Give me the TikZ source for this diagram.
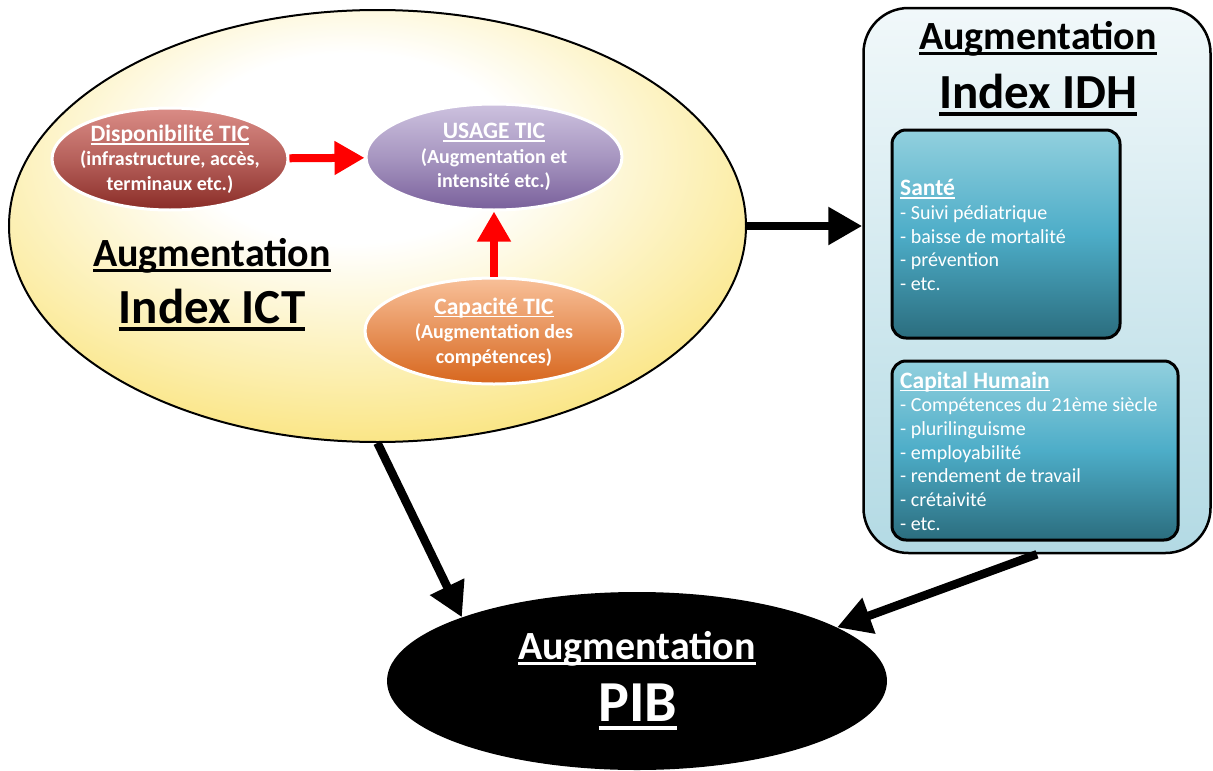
\documentclass[tikz,border=0pt]{standalone}
\usepackage{fontspec}
\setmainfont{Carlito}
\usetikzlibrary{arrows.meta,shapes.geometric,calc}
\definecolor{ictlight}{HTML}{FCEFB0}
\definecolor{ictmid}{HTML}{F9DF6A}
\definecolor{ictout}{HTML}{F3C942}
\definecolor{dispoT}{HTML}{DA8C86}
\definecolor{dispoB}{HTML}{8A2C27}
\definecolor{usageT}{HTML}{CDC2DF}
\definecolor{usageB}{HTML}{79609B}
\definecolor{capaT}{HTML}{F8C099}
\definecolor{capaB}{HTML}{D7661D}
\definecolor{idhT}{HTML}{F1F8FA}
\definecolor{idhB}{HTML}{B3DAE4}
\definecolor{tealT}{HTML}{92D0DE}
\definecolor{tealM}{HTML}{4DADC8}
\definecolor{tealB}{HTML}{2B6D7E}
\definecolor{arrred}{HTML}{FF0000}
\pgfdeclareradialshading{ictshade}{\pgfpoint{-2bp}{10bp}}{color(0bp)=(white); color(11bp)=(white); color(25bp)=(ictlight); color(37bp)=(ictmid); color(48bp)=(ictout); color(110bp)=(ictout)}
\newsavebox\ulbox
\newcommand{\myul}[2][]{\leavevmode{#1\sbox\ulbox{#2}\rlap{\rule[-0.14em]{\wd\ulbox}{0.07em}}\usebox\ulbox}}
\newcommand{\ellfont}{\bfseries\fontsize{20}{24.5}\selectfont}
\newcommand{\elltitle}{\bfseries\fontsize{23.5}{24.5}\selectfont}
\newcommand{\boxfont}{\fontsize{20}{23.7}\selectfont}
\newcommand{\boxtitle}{\bfseries\fontsize{23.5}{23.7}\selectfont}
\tikzset{
  smallell/.style={ellipse, draw=white, line width=3pt, inner sep=0pt},
  elltext/.style={inner sep=0pt, text=white, font=\ellfont, align=center},
  tealbox/.style={draw=black, line width=3pt, rounded corners=14pt, top color=tealT, bottom color=tealB, middle color=tealM},
  boxtext/.style={text=white, inner sep=0pt, align=left, font=\boxfont},
  bigword/.style={inner sep=0pt, font=\bfseries\fontsize{40}{44}\selectfont},
  hugeword/.style={inner sep=0pt, font=\bfseries\fontsize{49}{54}\selectfont},
  redarrow/.style={draw=arrred, line width=8pt, -{Triangle[width=32pt,length=30pt]}},
  blackarrow/.style={draw=black, line width=8.5pt, -{Triangle[width=36pt,length=34pt]}},
}
\begin{document}
\begin{tikzpicture}[x=1pt,y=-1pt]
\useasboundingbox (0,0) rectangle (1213,771);
% big ICT ellipse
\node[ellipse, draw=black, line width=2pt, minimum width=737, minimum height=432, inner sep=0pt, shading=ictshade] (ict) at (377.5,226) {};
% IDH box
\node[draw=black, line width=2.5pt, rounded corners=45pt, minimum width=347, minimum height=545, inner sep=0pt, top color=idhT, bottom color=idhB] (idh) at (1037,280.5) {};
% small ellipses
\node[smallell, minimum width=236, minimum height=102, top color=dispoT, bottom color=dispoB, middle color=dispoT!55!dispoB] (dispo) at (170,159) {};
\node[smallell, minimum width=256, minimum height=106, top color=usageT, bottom color=usageB, middle color=usageT!55!usageB] (usage) at (494,157) {};
\node[smallell, minimum width=258, minimum height=106, top color=capaT, bottom color=capaB, middle color=capaT!50!capaB] (capa) at (494,331) {};
\node[elltext] (dispoL) at (170,159) {\myul[\elltitle]{Disponibilité TIC}\\(infrastructure, accès,\\terminaux etc.)};
\node[elltext] (usageL) at (494,157) {\myul[\elltitle]{USAGE TIC}\\(Augmentation et\\intensité etc.)};
\node[elltext] (capaL) at (494,332) {\myul[\elltitle]{Capacité TIC}\\(Augmentation des\\compétences)};
% ICT labels
\node[bigword] (ictA) at (212,256) {\myul{Augmentation}};
\node[hugeword] (ictB) at (212,310) {\myul{Index ICT}};
% IDH labels
\node[bigword] (idhA) at (1038,39) {\myul{Augmentation}};
\node[hugeword] (idhB) at (1038,95) {\myul{Index IDH}};
% teal boxes
\node[tealbox, minimum width=228, minimum height=208, inner sep=0pt] (sante) at (1006,234) {};
\node[tealbox, minimum width=286, minimum height=179, inner sep=0pt] (capital) at (1035,450.5) {};
\node[boxtext, anchor=west] (santeT) at (900,235) {\myul[\boxtitle]{Santé}\\- Suivi pédiatrique\\- baisse de mortalité\\- prévention\\- etc.};
\node[boxtext, anchor=west] (capitalT) at (900,451) {\myul[\boxtitle]{Capital Humain}\\- Compétences du 21ème siècle\\- plurilinguisme\\- employabilité\\- rendement de travail\\- crétaivité\\- etc.};
% PIB
\node[ellipse, fill=black, minimum width=500, minimum height=178, inner sep=0pt] (pib) at (637,681) {};
\node[bigword, text=white] (pibA) at (637,649) {\myul{Augmentation}};
\node[inner sep=0pt, text=white, font=\bfseries\fontsize{58}{62}\selectfont] (pibB) at (638,707) {\myul{PIB}};
% arrows
\draw[redarrow] (dispo) -- (usage);
\draw[redarrow] (capa) -- (usage);
\draw[blackarrow] (ict.east) -- (ict.east -| idh.west);
\draw[blackarrow] (ict.south) -- (pib.160);
\draw[blackarrow] (idh.south) -- (pib.15);
\end{tikzpicture}
\end{document}
